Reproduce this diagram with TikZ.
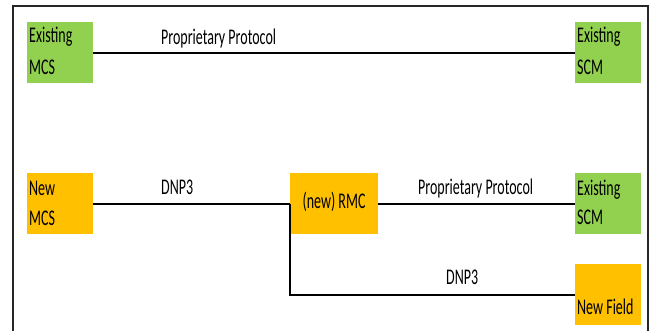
\documentclass[tikz,border=0pt]{standalone}
\usepackage{fontspec}
\setmainfont{Carlito}
\usepackage{graphicx}
\definecolor{boxgreen}{HTML}{92D050}
\definecolor{boxorange}{HTML}{FFC000}
\newcommand\tallword[1]{\scalebox{1}[1.6]{#1}}
\tikzset{
  unitbox/.style={draw=none, minimum width=66pt, minimum height=61pt, inner sep=0pt, anchor=north west},
  greenbox/.style={unitbox, fill=boxgreen},
  orangebox/.style={unitbox, fill=boxorange},
  word/.style={inner sep=0pt, anchor=base west, font=\fontsize{14}{16}\selectfont, text=black},
  link/.style={line width=2pt, black},
}
\begin{document}
\begin{tikzpicture}[x=1pt, y=-1pt]
\useasboundingbox (0,0) rectangle (654,331);
% outer frame (runs past the lower edge)
\draw[line width=2.5pt, black!85] (13,345) -- (13,6) -- (648,6) -- (648,345);

% boxes
\node[greenbox] (emcs) at (27,22) {};
\node[greenbox] (escmA) at (575,22) {};
\node[orangebox] (nmcs) at (27,173) {};
\node[orangebox, minimum width=88pt] (rmc) at (290,173) {};
\node[greenbox] (escmB) at (575,173) {};
\node[orangebox] (nfield) at (575,264) {};

% box texts
\node[word] (emcsA) at (29,43) {\tallword{Existing}};
\node[word] (emcsB) at (29,75) {\tallword{MCS}};
\node[word] (escmAa) at (577,43) {\tallword{Existing}};
\node[word] (escmAb) at (577,75) {\tallword{SCM}};
\node[word] (nmcsA) at (29,196) {\tallword{New}};
\node[word] (nmcsB) at (29,226) {\tallword{MCS}};
\node[word, anchor=base] (rmcT) at (334,209) {\tallword{(new) RMC}};
\node[word] (escmBa) at (577,196) {\tallword{Existing}};
\node[word] (escmBb) at (577,225) {\tallword{SCM}};
\node[word] (nfieldT) at (577,315) {\tallword{New Field}};

% connectors
\draw[link] (emcs.east) -- (escmA.west);
\draw[link] (nmcs.east) -- (rmc.west);
\draw[link] (rmc.east) -- (escmB.west);
\draw[link] (rmc.west) |- (nfield.west);

% connector labels
\node[word] (lpA) at (161,45) {\tallword{Proprietary Protocol}};
\node[word] (ldA) at (161,195) {\tallword{DNP3}};
\node[word] (lpB) at (418,195) {\tallword{Proprietary Protocol}};
\node[word] (ldB) at (446,285) {\tallword{DNP3}};
\end{tikzpicture}
\end{document}
